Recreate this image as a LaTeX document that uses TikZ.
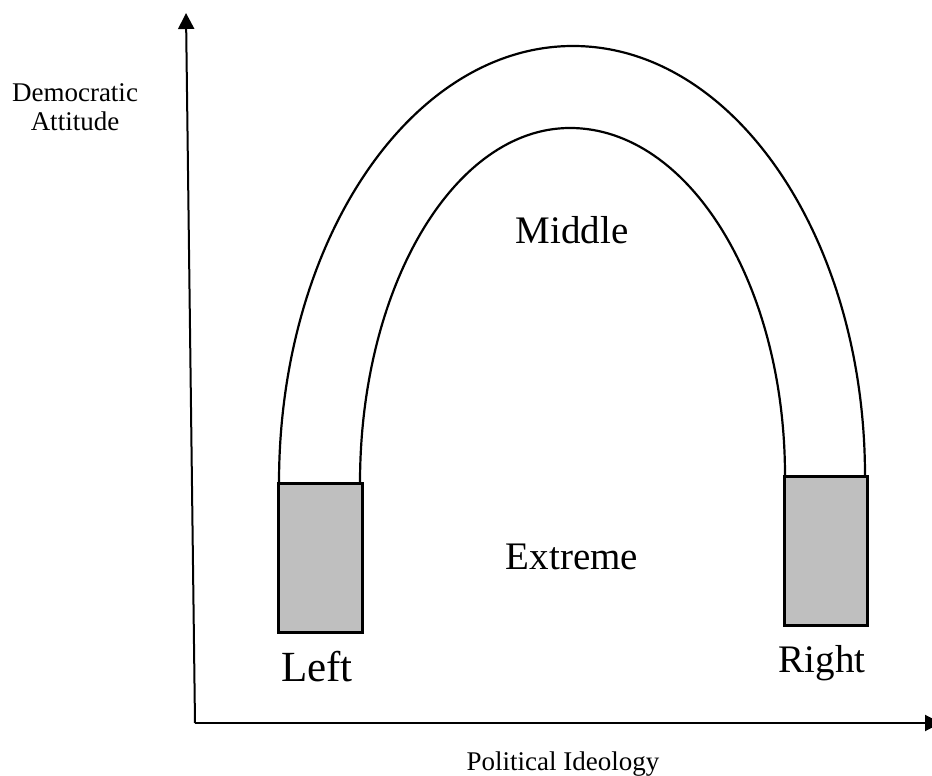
\documentclass[tikz,border=0pt]{standalone}
\usepackage{fontspec}
\setmainfont{Liberation Serif}
\usetikzlibrary{arrows.meta}

\tikzset{
    eje/.style={line width=2pt,-{Triangle[length=16pt,width=16pt]}},
    arco/.style={line width=2.2pt},
    caja/.style={fill=black!25,draw=black,line width=3pt},
    etiqueta/.style={inner sep=0pt,font=\fontsize{39}{44}\selectfont},
    titulo/.style={inner sep=0pt,align=center,font=\fontsize{27}{29}\selectfont}
}

\begin{document}
\begin{tikzpicture}[x=1pt,y=1pt]
\def\base{293};%Altura donde arranca el arco
\def\ancho{84};%Ancho de las cajas
\def\alto{149};%Alto de las cajas

\useasboundingbox (0,0) rectangle (932,776);

%Ejes
\coordinate (origen) at (195,53);
\coordinate (ytope) at (186,763);
\coordinate (xfin) at (941,53);
\draw[eje] (origen) -- (ytope);
\draw[eje] (origen) -- (xfin);
\node[titulo] (actitud) at (75,669) {Democratic\\Attitude};
\node[titulo] (ideologia) at (563,12) {Political Ideology};

%Arco exterior e interior
\draw[arco] (279,\base) arc[start angle=180,end angle=90,x radius=294,y radius=437]
    arc[start angle=90,end angle=0,x radius=292,y radius=430];
\draw[arco] (360,\base) arc[start angle=180,end angle=90,x radius=210,y radius=355]
    arc[start angle=90,end angle=0,x radius=215,y radius=348];

%Cajas
\draw[caja] (278,143) rectangle ++(\ancho,\alto);
\draw[caja] (784,150) rectangle ++(\ancho-1,\alto);

%Textos
\node[etiqueta] (medio) at (572,546) {Middle};
\node[etiqueta] (extremo) at (572,219) {Extreme};
\node[etiqueta,font=\fontsize{43}{48}\selectfont] (izq) at (317,109) {Left};
\node[etiqueta] (der) at (822,113) {Right};
\end{tikzpicture}
\end{document}
